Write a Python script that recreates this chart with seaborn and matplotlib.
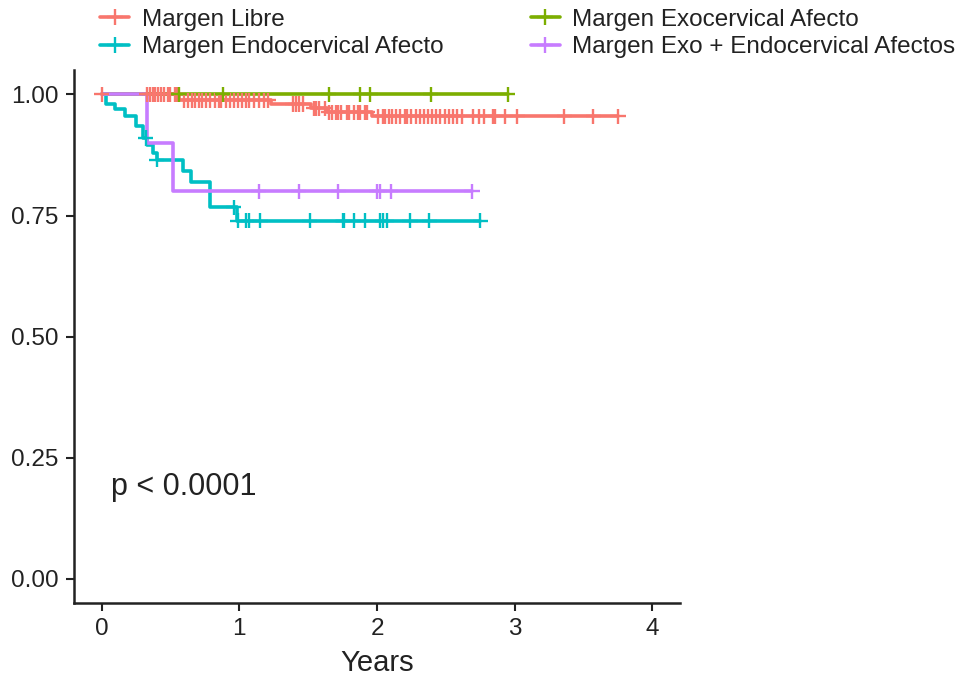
import pandas as pd
import matplotlib
matplotlib.use("Agg")
import matplotlib.pyplot as plt
from matplotlib.lines import Line2D
import seaborn as sns

# grupos y colores (paleta por defecto de ggplot)
grupos = ['Margen Libre', 'Margen Exocervical Afecto',
          'Margen Endocervical Afecto', 'Margen Exo + Endocervical Afectos']
colores = ['#F8766D', '#7CAE00', '#00BFC4', '#C77CFF']

# curvas Kaplan-Meier: tiempos de evento y supervivencia
libre_t = [0.0, 0.56, 1.23, 1.52, 1.64, 1.96, 3.75]
libre_s = [1.0, 0.988, 0.980, 0.971, 0.963, 0.955, 0.955]
libre_cens = [0.0, 0.33, 0.35, 0.37, 0.39, 0.41, 0.43, 0.45, 0.48, 0.50, 0.53, 0.55,
              0.60, 0.63, 0.66, 0.68, 0.71, 0.73, 0.76, 0.79, 0.82, 0.85, 0.87, 0.90,
              0.93, 0.96, 0.99, 1.02, 1.05, 1.07, 1.11, 1.14, 1.18, 1.21, 1.39, 1.41,
              1.43, 1.46, 1.54, 1.56, 1.58, 1.62, 1.65, 1.67, 1.70, 1.72, 1.74, 1.78,
              1.80, 1.83, 1.86, 1.88, 1.91, 1.93, 2.01, 2.04, 2.06, 2.09, 2.11, 2.14,
              2.17, 2.20, 2.22, 2.25, 2.28, 2.31, 2.34, 2.37, 2.40, 2.43, 2.46, 2.49,
              2.52, 2.55, 2.58, 2.62, 2.70, 2.74, 2.78, 2.84, 2.86, 2.93, 3.02, 3.36,
              3.57, 3.75]

exo_t = [0.0, 2.95]
exo_s = [1.0, 1.0]
exo_cens = [0.56, 0.88, 1.65, 1.88, 1.95, 2.39, 2.95]

endo_t = [0.0, 0.03, 0.10, 0.17, 0.25, 0.30, 0.33, 0.37, 0.40, 0.59, 0.65, 0.79, 0.98, 2.75]
endo_s = [1.0, 0.98, 0.97, 0.955, 0.935, 0.91, 0.895, 0.88, 0.865, 0.842, 0.82, 0.767,
          0.739, 0.739]
endo_cens = [0.32, 0.40, 0.96, 0.99, 1.05, 1.07, 1.15, 1.51, 1.75, 1.76, 1.83, 1.91,
             2.02, 2.04, 2.07, 2.24, 2.38, 2.75]

ambos_t = [0.0, 0.33, 0.52, 2.69]
ambos_s = [1.0, 0.90, 0.80, 0.80]
ambos_cens = [1.14, 1.43, 1.72, 2.00, 2.02, 2.10, 2.69]

curvas = {
    grupos[0]: (libre_t, libre_s, libre_cens),
    grupos[1]: (exo_t, exo_s, exo_cens),
    grupos[2]: (endo_t, endo_s, endo_cens),
    grupos[3]: (ambos_t, ambos_s, ambos_cens),
}

filas = []
marcas = []
for g, (t, s, c) in curvas.items():
    for ti, si in zip(t, s):
        filas.append({'grupo': g, 'tiempo': ti, 'surv': si})
    for ci in c:
        # valor de la curva en el tiempo censurado
        nivel = [si for ti, si in zip(t, s) if ti <= ci][-1]
        marcas.append({'grupo': g, 'tiempo': ci, 'surv': nivel})
df = pd.DataFrame(filas)
df_m = pd.DataFrame(marcas)
paleta = dict(zip(grupos, colores))

sns.set_style("white")
plt.rcParams['font.family'] = ['Liberation Sans', 'DejaVu Sans']

fig = plt.figure(figsize=(9.64, 6.75), dpi=100)
ax = fig.add_axes([0.0768, 0.1067, 0.6286, 0.7893])

sns.lineplot(data=df, x='tiempo', y='surv', hue='grupo', palette=paleta,
             drawstyle='steps-post', estimator=None, sort=False, linewidth=2.6,
             legend=False, ax=ax)
sns.scatterplot(data=df_m, x='tiempo', y='surv', hue='grupo', palette=paleta,
                marker='+', s=120, linewidth=1.7, legend=False, ax=ax, zorder=3)

ax.set_xlim(-0.2, 4.2)
ax.set_ylim(-0.05, 1.05)
ax.set_xticks([0, 1, 2, 3, 4])
ax.set_yticks([0, 0.25, 0.5, 0.75, 1.0])
ax.set_yticklabels(['0.00', '0.25', '0.50', '0.75', '1.00'])
ax.tick_params(axis='both', labelsize=17.5, length=6, width=1.5, color='#222222',
               labelcolor='#222222', pad=5, direction='out', left=True, bottom=True)
ax.set_xlabel('Years', fontsize=21, color='#222222', labelpad=6)
ax.set_ylabel('')
sns.despine(ax=ax)
for lado in ['left', 'bottom']:
    ax.spines[lado].set_linewidth(1.8)
    ax.spines[lado].set_color('#222222')

ax.text(0.07, 0.19, 'p < 0.0001', fontsize=22, color='#222222', va='center', ha='left')

# leyenda en dos columnas arriba
orden = [0, 2, 1, 3]
handles = [Line2D([], [], color=colores[i], marker='+', markersize=12, linewidth=2.6,
                  markeredgewidth=1.7) for i in orden]
fig.legend(handles, [grupos[i] for i in orden], ncol=2, loc='upper left',
           bbox_to_anchor=(0.104, 0.987), frameon=False, fontsize=17.5,
           borderpad=0, borderaxespad=0,
           handlelength=1.2, handletextpad=0.5, columnspacing=3.6, labelspacing=0.22,
           labelcolor='#222222')

fig.savefig('out.png', dpi=100)
